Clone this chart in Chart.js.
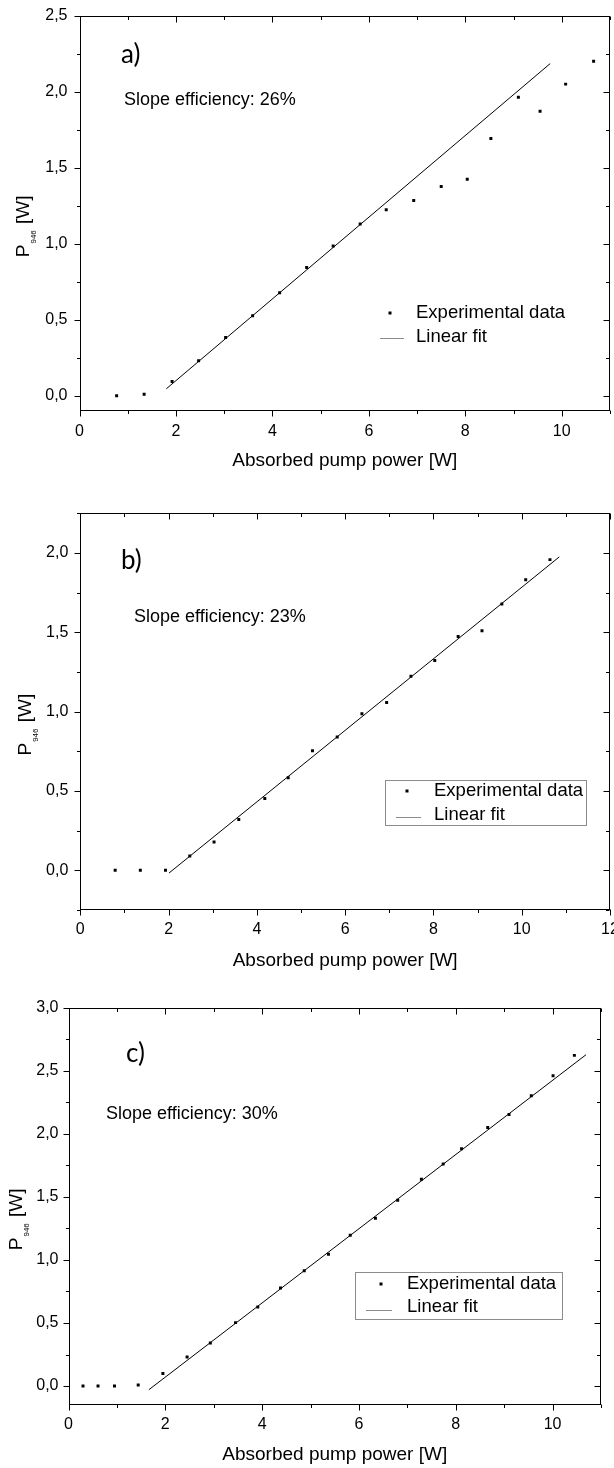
<!DOCTYPE html>
<html>
<head>
<meta charset="utf-8">
<script src="https://cdn.jsdelivr.net/npm/chart.js@4/dist/chart.umd.min.js"></script>
<style>
  html, body { margin: 0; padding: 0; background: #fff; }
  body { width: 614px; height: 1468px; position: relative; overflow: hidden; }
  .panel { position: absolute; left: 0; width: 614px; }
</style>
</head>
<body>
<div class="panel" style="top:0;height:475px"><canvas id="chartA"></canvas></div>
<div class="panel" style="top:475px;height:500px"><canvas id="chartB"></canvas></div>
<div class="panel" style="top:975px;height:493px"><canvas id="chartC"></canvas></div>

<script>
// ── DATA: PANEL A ────────────────────────────────────────────
var aPumpW = [0.77, 1.34, 1.92, 2.47, 3.03, 3.59, 4.15, 4.71, 5.26, 5.82, 6.36, 6.93, 7.50, 8.04, 8.53, 9.10, 9.55, 10.08, 10.66];
var aOutW  = [0.0, 0.01, 0.094, 0.23, 0.384, 0.526, 0.678, 0.844, 0.985, 1.13, 1.224, 1.285, 1.376, 1.424, 1.693, 1.963, 1.872, 2.05, 2.20];
var aFitPump = [1.80, 9.76];
var aFitOut  = [0.046, 2.185];
var aXTicks = [0, 2, 4, 6, 8, 10];
var aYTicks = [0, 0.5, 1.0, 1.5, 2.0, 2.5];

// ── DATA: PANEL B ────────────────────────────────────────────
var bPumpW = [0.79, 1.36, 1.93, 2.48, 3.03, 3.59, 4.18, 4.71, 5.26, 5.82, 6.38, 6.94, 7.49, 8.03, 8.56, 9.10, 9.55, 10.09, 10.64];
var bOutW  = [0.0, 0.0, 0.0, 0.09, 0.179, 0.321, 0.452, 0.584, 0.754, 0.84, 0.987, 1.057, 1.223, 1.323, 1.473, 1.51, 1.679, 1.831, 1.958];
var bFitPump = [2.01, 10.85];
var bFitOut  = [-0.017, 1.975];
var bXTicks = [0, 2, 4, 6, 8, 10, 12];
var bYTicks = [0, 0.5, 1.0, 1.5, 2.0];

// ── DATA: PANEL C ────────────────────────────────────────────
var cPumpW = [0.30, 0.61, 0.95, 1.44, 1.95, 2.45, 2.93, 3.45, 3.91, 4.38, 4.87, 5.37, 5.82, 6.34, 6.80, 7.29, 7.74, 8.12, 8.66, 9.10, 9.56, 10.01, 10.45];
var cOutW  = [0.0, 0.0, 0.0, 0.008, 0.10, 0.23, 0.341, 0.503, 0.627, 0.778, 0.915, 1.045, 1.196, 1.331, 1.474, 1.64, 1.76, 1.881, 2.05, 2.153, 2.302, 2.46, 2.622];
var cFitPump = [1.66, 10.69];
var cFitOut  = [-0.029, 2.627];
var cXTicks = [0, 2, 4, 6, 8, 10];
var cYTicks = [0, 0.5, 1.0, 1.5, 2.0, 2.5, 3.0];

// ── TEXTS ────────────────────────────────────────────────────
var X_TITLE = 'Absorbed pump power [W]';
var SERIES_LABELS = ['Experimental data', 'Linear fit'];

// ── FONTS ────────────────────────────────────────────────────
var SANS = '"Liberation Sans", Arial, sans-serif';
var LETTER_FONT = '26px Lato, "Open Sans", sans-serif';

// ── HELPERS ──────────────────────────────────────────────────
function toPoints(xs, ys) {
  return xs.map(function (x, i) { return { x: x, y: ys[i] }; });
}

function commaLabel(v) {
  return v.toFixed(1).replace('.', ',');
}

function stepValues(min, max, step) {
  var out = [];
  var start = Math.ceil(min / step - 1e-9);
  for (var k = start; k * step <= max + 1e-9; k++) out.push(+(k * step).toFixed(6));
  return out;
}

function isMajor(v, ticks) {
  return ticks.some(function (t) { return Math.abs(t - v) < 1e-6; });
}

// ── ORIGIN-STYLE FRAME, TICKS, TEXTS, LEGEND ─────────────────
var originPlugin = {
  id: 'originPlugin',
  afterDraw: function (chart) {
    var p = chart.options.plugins.originPlugin;
    var ctx = chart.ctx;
    var a = chart.chartArea;
    var xs = chart.scales.x, ys = chart.scales.y;
    var L = Math.round(a.left) + 0.5, R = Math.round(a.right) - 0.5;
    var T = Math.round(a.top) + 0.5, B = Math.round(a.bottom) - 0.5;

    ctx.save();
    ctx.strokeStyle = '#000';
    ctx.lineWidth = 1;
    ctx.strokeRect(L, T, R - L, B - T);

    ctx.beginPath();
    stepValues(xs.min, xs.max, p.xMinor).forEach(function (v) {
      var px = Math.round(xs.getPixelForValue(v)) + 0.5;
      var len = isMajor(v, p.xTicks) ? 6 : 3.5;
      ctx.moveTo(px, B); ctx.lineTo(px, B + len);
      ctx.moveTo(px, T); ctx.lineTo(px, T + len);
    });
    stepValues(ys.min, ys.max, p.yMinor).forEach(function (v) {
      var py = Math.round(ys.getPixelForValue(v)) + 0.5;
      var len = isMajor(v, p.yTicks) ? 6 : 3.5;
      ctx.moveTo(L, py); ctx.lineTo(L - len, py);
      ctx.moveTo(R, py); ctx.lineTo(R - len, py);
    });
    ctx.stroke();

    // y title with subscript
    var big = '19px ' + SANS, small = '8px ' + SANS;
    ctx.font = big;
    var wP = ctx.measureText('P').width;
    var wR = ctx.measureText(' [W]').width;
    ctx.font = small;
    var wS = ctx.measureText('946').width;
    var cy = (a.top + a.bottom) / 2 + 13;
    ctx.save();
    ctx.translate(p.yTitleX, cy);
    ctx.rotate(-Math.PI / 2);
    ctx.fillStyle = '#000';
    ctx.textBaseline = 'alphabetic';
    ctx.textAlign = 'left';
    var x0 = -(wP + wS + wR + 2) / 2;
    ctx.font = big;  ctx.fillText('P', x0, 0);
    ctx.font = small; ctx.fillText('946', x0 + wP + 1, 7);
    ctx.font = big;  ctx.fillText(' [W]', x0 + wP + wS + 2, 0);
    ctx.restore();

    // panel letter + slope
    ctx.fillStyle = '#000';
    ctx.textAlign = 'left';
    ctx.textBaseline = 'middle';
    ctx.font = LETTER_FONT;
    ctx.fillText(p.letter, p.letterPos[0], p.letterPos[1]);
    ctx.font = '18px ' + SANS;
    ctx.fillText(p.slope, p.slopePos[0], p.slopePos[1]);

    // legend
    var lg = p.legend;
    if (lg.box) {
      ctx.strokeStyle = '#8c8c8c';
      ctx.strokeRect(lg.box[0] + 0.5, lg.box[1] + 0.5, lg.box[2], lg.box[3]);
    }
    ctx.fillStyle = '#000';
    ctx.fillRect(lg.marker[0] - 1.5, lg.rows[0] - 1.5, 3, 3);
    ctx.strokeStyle = '#8c8c8c';
    ctx.beginPath();
    ctx.moveTo(lg.line[0], lg.line[2] + 0.5);
    ctx.lineTo(lg.line[1], lg.line[2] + 0.5);
    ctx.stroke();
    ctx.font = '18.5px ' + SANS;
    ctx.fillText(chart.data.datasets[0].label, lg.textX, lg.rows[0]);
    ctx.fillText(chart.data.datasets[1].label, lg.textX, lg.rows[1]);
    ctx.restore();
  }
};

// ── CHART FACTORY ────────────────────────────────────────────
function makePanel(canvasId, cfg) {
  var ctx = document.getElementById(canvasId);
  return new Chart(ctx, {
    type: 'scatter',
    data: {
      datasets: [
        {
          label: SERIES_LABELS[0],
          data: toPoints(cfg.pump, cfg.out),
          pointStyle: 'rect',
          pointRadius: 2.1,
          pointBorderWidth: 0,
          backgroundColor: '#000',
          borderColor: '#000',
          showLine: false
        },
        {
          label: SERIES_LABELS[1],
          data: toPoints(cfg.fitPump, cfg.fitOut),
          showLine: true,
          pointRadius: 0,
          borderColor: '#000',
          borderWidth: 1,
          backgroundColor: '#000'
        }
      ]
    },
    options: {
      responsive: true,
      maintainAspectRatio: false,
      animation: false,
      layout: { padding: { left: 0, right: 614 - cfg.area.right, top: cfg.area.top, bottom: 0 } },
      plugins: {
        legend: { display: false },
        tooltip: { enabled: false },
        originPlugin: {
          xTicks: cfg.xTicks, yTicks: cfg.yTicks,
          xMinor: 1, yMinor: 0.25,
          yTitleX: cfg.yTitleX,
          letter: cfg.letter, letterPos: cfg.letterPos,
          slope: cfg.slope, slopePos: cfg.slopePos,
          legend: cfg.legend
        }
      },
      scales: {
        x: {
          type: 'linear',
          min: cfg.xRange[0], max: cfg.xRange[1],
          grid: { display: false, drawTicks: false },
          border: { display: false },
          afterBuildTicks: function (s) { s.ticks = cfg.xTicks.map(function (v) { return { value: v }; }); },
          afterFit: function (s) {
            s.height = cfg.height - cfg.area.bottom;
            s.paddingLeft = 0; s.paddingRight = 0;
          },
          ticks: {
            autoSkip: false, maxRotation: 0, padding: cfg.xTickPad,
            color: '#000', font: { family: SANS, size: 16 },
            callback: function (v) { return String(v); }
          },
          title: {
            display: true, text: X_TITLE, color: '#000',
            font: { family: SANS, size: 19 },
            padding: { top: 0, bottom: cfg.xTitlePad }
          }
        },
        y: {
          type: 'linear',
          min: cfg.yRange[0], max: cfg.yRange[1],
          grid: { display: false, drawTicks: false },
          border: { display: false },
          afterBuildTicks: function (s) { s.ticks = cfg.yTicks.map(function (v) { return { value: v }; }); },
          afterFit: function (s) {
            s.width = cfg.area.left;
            s.paddingTop = 0; s.paddingBottom = 0;
          },
          ticks: {
            padding: cfg.yTickPad,
            color: '#000', font: { family: SANS, size: 16 },
            callback: function (v) { return commaLabel(v); }
          }
        }
      }
    },
    plugins: [originPlugin]
  });
}

// ── PANELS ───────────────────────────────────────────────────
makePanel('chartA', {
  pump: aPumpW, out: aOutW, fitPump: aFitPump, fitOut: aFitOut,
  xTicks: aXTicks, yTicks: aYTicks, xRange: [0, 11], yRange: [-0.1, 2.5],
  height: 475, area: { left: 79.5, right: 611, top: 15.7, bottom: 411 },
  xTickPad: 10.5, xTitlePad: 2.6, yTickPad: 12, yTitleX: 29,
  letter: 'a)', letterPos: [121, 55],
  slope: 'Slope efficiency: 26%', slopePos: [124, 100],
  legend: { box: null, marker: [390], rows: [313, 337], line: [380, 404, 338], textX: 416 }
});

makePanel('chartB', {
  pump: bPumpW, out: bOutW, fitPump: bFitPump, fitOut: bFitOut,
  xTicks: bXTicks, yTicks: bYTicks, xRange: [0, 12], yRange: [-0.25, 2.25],
  height: 500, area: { left: 80.3, right: 613, top: 38.3, bottom: 435 },
  xTickPad: 10.4, xTitlePad: 2.6, yTickPad: 12, yTitleX: 31,
  letter: 'b)', letterPos: [121, 86],
  slope: 'Slope efficiency: 23%', slopePos: [134, 142],
  legend: { box: [385, 305, 201, 45], marker: [407], rows: [316, 340], line: [396, 421, 342], textX: 434 }
});

makePanel('chartC', {
  pump: cPumpW, out: cOutW, fitPump: cFitPump, fitOut: cFitOut,
  xTicks: cXTicks, yTicks: cYTicks, xRange: [0, 11], yRange: [-0.15, 3.0],
  height: 493, area: { left: 68.5, right: 601, top: 32.7, bottom: 430 },
  xTickPad: 10.4, xTitlePad: 1.6, yTickPad: 10, yTitleX: 21.5,
  letter: 'c)', letterPos: [126, 79],
  slope: 'Slope efficiency: 30%', slopePos: [106, 139],
  legend: { box: [355, 297, 207, 47], marker: [381], rows: [309, 332], line: [366, 392, 335], textX: 407 }
});
</script>
</body>
</html>
